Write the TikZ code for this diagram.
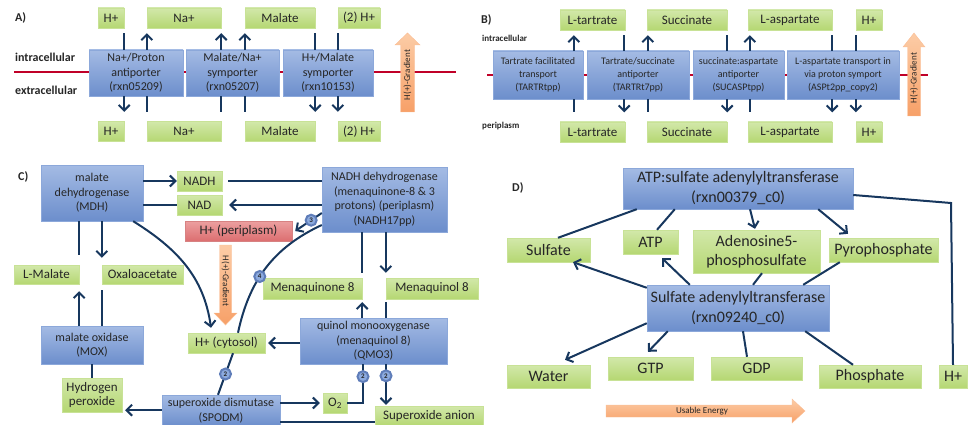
\documentclass[tikz,border=0pt]{standalone}
\usepackage{fontspec}
\setmainfont{Carlito}
\usetikzlibrary{arrows.meta}
\definecolor{enztop}{RGB}{164,187,228}
\definecolor{enzbot}{RGB}{108,142,204}
\definecolor{enzline}{RGB}{140,168,218}
\definecolor{mettop}{RGB}{210,232,170}
\definecolor{metbot}{RGB}{181,215,114}
\definecolor{metline}{RGB}{200,226,150}
\definecolor{redtop}{RGB}{236,160,160}
\definecolor{redbot}{RGB}{220,110,112}
\definecolor{redline}{RGB}{215,130,130}
\definecolor{flowc}{RGB}{23,55,94}
\definecolor{memb}{RGB}{192,0,40}
\definecolor{gradtop}{RGB}{252,204,166}
\definecolor{gradbot}{RGB}{247,160,104}
\definecolor{gradline}{RGB}{250,190,150}
\definecolor{numfill}{RGB}{140,170,222}
\definecolor{numline}{RGB}{95,125,185}
\definecolor{txt}{RGB}{38,38,38}
\tikzset{
  enz/.style={draw=enzline,top color=enztop,bottom color=enzbot,inner sep=0pt,align=center,text=txt,font=\fontsize{12}{14.5}\selectfont},
  enzs/.style={enz,font=\fontsize{10}{13}\selectfont},
  enzl/.style={enz,font=\fontsize{16}{20}\selectfont},
  met/.style={draw=metline,top color=mettop,bottom color=metbot,inner sep=0pt,align=center,text=txt,font=\fontsize{13}{14.5}\selectfont},
  metl/.style={met,font=\fontsize{16}{18.5}\selectfont},
  hp/.style={met,draw=redline,top color=redtop,bottom color=redbot},
  link/.style={draw=flowc,line width=2pt},
  flow/.style={link,-{Straight Barb[length=5.5pt,width=11pt]}},
  num/.style={circle,draw=numline,fill=numfill,inner sep=0pt,minimum size=11pt,text=txt,font=\fontsize{7}{7}\selectfont\bfseries},
  membrane/.style={draw=memb,line width=2.6pt},
  grad/.style={draw=gradline,line width=0.4pt,top color=gradtop,bottom color=gradbot},
  gtext/.style={text=txt,inner sep=0pt,font=\fontsize{9}{9}\selectfont},
  lbl/.style={text=txt,inner sep=0pt,font=\fontsize{12}{14}\selectfont\bfseries},
  lbls/.style={lbl,font=\fontsize{9}{11}\selectfont\bfseries}
}
\begin{document}
\begin{tikzpicture}[x=1pt,y=-1pt]
\useasboundingbox (0,0) rectangle (969,425);
% A) and B): membrane transport
\draw[membrane] (14,72) -- (456,72);
\draw[membrane] (487,75) -- (928,75);
\node[lbl,anchor=west] (labA) at (15,18) {A)};
\node[lbl,anchor=west] (inA) at (15,57) {intracellular};
\node[lbl,anchor=west] (exA) at (15,90) {extracellular};
\node[lbl,anchor=west] (labB) at (481,20) {B)};
\node[lbls,anchor=west] (inB) at (482,38) {intracellular};
\node[lbls,anchor=west] (exB) at (482,126) {periplasm};
\foreach \nm/\x/\w/\txt in {Ha/111/26/H+, Na/184/74/Na+, Mal/280/70/Malate, Hb/359/42/(2) H+}{
  \node[met,minimum width=\w pt,minimum height=20pt] (t\nm) at (\x,18) {\txt};
  \node[met,minimum width=\w pt,minimum height=20pt] (b\nm) at (\x,131.5) {\txt};
}
\foreach \nm/\x/\w/\txt in {Lt/592.5/65/L-tartrate, Su/687/80/Succinate, La/790/84/L-aspartate, Hc/869/26/H+}{
  \node[met,minimum width=\w pt,minimum height=20pt] (t\nm) at (\x,20) {\txt};
  \node[met,minimum width=\w pt,minimum height=20pt] (b\nm) at (\x,132) {\txt};
}
\node[enz,minimum width=94pt,minimum height=46pt] (ea1) at (136,73) {Na+/Proton\\antiporter\\(rxn05209)};
\node[enz,minimum width=93pt,minimum height=46pt] (ea2) at (232.5,73) {Malate/Na+\\symporter\\(rxn05207)};
\node[enz,minimum width=90pt,minimum height=46pt] (ea3) at (328,73) {H+/Malate\\symporter\\(rxn10153)};
\node[enzs,minimum width=90pt,minimum height=48pt] (eb1) at (538,75) {Tartrate facilitated\\transport\\(TARTRtpp)};
\node[enzs,minimum width=102pt,minimum height=48pt] (eb2) at (638,75) {Tartrate/succinate\\antiporter\\(TARTRt7pp)};
\node[enzs,minimum width=91pt,minimum height=48pt] (eb3) at (738.5,75) {succinate:aspartate\\antiporter\\(SUCASPtpp)};
\node[enzs,minimum width=112pt,minimum height=48pt] (eb4) at (843,75) {L-aspartate transport in\\via proton symport\\(ASPt2pp\_copy2)};
\foreach \mt/\en/\mb/\anc/\dx/\stU/\stD in {tHa/ea1/bHa/south east/0/link/flow, tNa/ea1/bNa/south west/0/flow/link,
    tNa/ea2/bNa/south east/0/flow/link, tMal/ea2/bMal/south west/0/flow/link, tMal/ea3/bMal/south east/0/link/flow,
    tHb/ea3/bHb/south west/0/link/flow, tLt/eb1/bLt/south west/14/flow/link, tLt/eb2/bLt/south east/-1/link/flow,
    tSu/eb2/bSu/south west/1/flow/link, tSu/eb3/bSu/south east/0/link/flow, tLa/eb3/bLa/south west/2/flow/link,
    tLa/eb4/bLa/south east/0/link/flow, tHc/eb4/bHc/south west/0/link/flow}{
  \coordinate (p) at ([xshift=\dx pt]\mt.\anc);
  \draw[\stU,shorten >=5pt] (p |- \en.north) -- (p);
  \draw[\stD,shorten >=9.5pt] (p |- \en.south) -- (p |- \mb.north);
}
\shade[grad] (400.5,112) -- (400.5,45) -- (395,45) -- (407.5,33) -- (420,45) -- (414.5,45) -- (414.5,112) -- cycle;
\node[gtext,rotate=90] (gradA) at (407.5,75) {H(+)-Gradient};
\shade[grad] (907.5,116) -- (907.5,47) -- (903,47) -- (914,33) -- (925,47) -- (920.5,47) -- (920.5,116) -- cycle;
\node[gtext,rotate=90] (gradB) at (914,78) {H(+)-Gradient};
% C) malate and menaquinone
\node[lbl,anchor=west] (labC) at (18,177) {C)};
\node[enz,minimum width=102pt,minimum height=56pt] (mdh) at (92,193) {malate\\dehydrogenase\\(MDH)};
\node[met,minimum width=45pt,minimum height=20pt] (nadh) at (199.5,181) {NADH};
\node[met,minimum width=45pt,minimum height=20pt] (nad) at (199.5,205) {NAD};
\node[enz,minimum width=125pt,minimum height=65pt] (ndh) at (384.5,199.5) {NADH dehydrogenase\\(menaquinone-8 \& 3\\protons) (periplasm)\\(NADH17pp)};
\node[hp,minimum width=107pt,minimum height=20pt] (hper) at (238.5,231) {H+ (periplasm)};
\node[met,minimum width=65pt,minimum height=19pt] (lmal) at (46.5,274.5) {L-Malate};
\node[met,minimum width=81pt,minimum height=19pt] (oxa) at (142.5,274.5) {Oxaloacetate};
\node[met,minimum width=99pt,minimum height=21pt] (mq) at (312.5,288.5) {Menaquinone 8};
\node[met,minimum width=92pt,minimum height=21pt] (mql) at (432,288.5) {Menaquinol 8};
\node[met,minimum width=77pt,minimum height=20pt] (hcyt) at (226.5,343) {H+ (cytosol)};
\node[enz,minimum width=147pt,minimum height=46pt] (qmo) at (373.5,341) {quinol monooxygenase\\(menaquinol 8)\\(QMO3)};
\node[enz,minimum width=102pt,minimum height=38pt] (mox) at (92,345) {malate oxidase\\(MOX)};
\node[met,minimum width=60pt,minimum height=34pt] (hpx) at (92,395) {Hydrogen\\peroxide};
\node[enz,minimum width=118pt,minimum height=31pt] (spodm) at (221,410.5) {superoxide dismutase\\(SPODM)};
\node[met,minimum width=24pt,minimum height=20pt] (o2) at (335,403) {O\textsubscript{2}};
\node[met,minimum width=108pt,minimum height=20pt] (sup) at (429,416) {Superoxide anion};
\shade[grad] (219.5,245) -- (219.5,313) -- (214,313) -- (225.5,325) -- (237,313) -- (231.5,313) -- (231.5,245) -- cycle;
\node[gtext,rotate=-90] (gradC) at (225.5,281) {H(+)-Gradient};
\draw[flow] (mdh.east |- nadh) -- (nadh.west);
\draw[link] (nad.west) -- (mdh.east |- nad);
\draw[link,shorten <=6pt] (nadh.east) -- (nadh -| ndh.west);
\draw[flow,shorten >=7pt] (nad -| ndh.west) -- (nad.east);
\draw[flow] ([yshift=-13.5pt]ndh.west) -- node[num,pos=0.4] (n3) {3} ([xshift=3pt]hper.east);
\draw[link] ([xshift=11.5pt]hcyt.north) to[out=78,in=205] node[num,pos=0.42] (n4) {4} ([yshift=-25.5pt]ndh.west);
\draw[flow] ([xshift=-10pt]mdh.south east) to[out=-32,in=98] ([xshift=-15.5pt,yshift=5pt]hcyt.north);
\draw[link,shorten >=10pt] (lmal.north east |- mdh.south) -- (lmal.north east);
\draw[flow,shorten >=7pt] (oxa.north west |- mdh.south) -- (oxa.north west);
\draw[flow,shorten >=7pt] (lmal.south east |- mox.north) -- (lmal.south east);
\draw[link,shorten >=6pt] (oxa.south west |- mox.north) -- (oxa.south west);
\draw[link] (mox) -- (hpx);
\coordinate (hpxin) at ([yshift=2pt]hpx.south east);
\draw[flow,shorten >=3pt] (hpxin -| spodm.west) -- (hpxin);
\draw[link] ([xshift=6.5pt]hcyt.south) -- node[num] (n2a) {2} ([xshift=-3pt]spodm.north);
\draw[flow] (spodm.east |- o2) -- ([xshift=-3pt]o2.west);
\draw[link] ([xshift=-10.5pt]qmo.south) |- node[num,pos=0.16] (n2b) {2} (o2.east);
\coordinate (qs) at ([xshift=12.5pt]qmo.south);
\draw[flow,shorten >=1pt] (qs) -- node[num,pos=0.28] (n2c) {2} (qs |- sup.north);
\coordinate (sin) at ([yshift=-6pt]sup.west);
\draw[link] (sin) -- (sin -| spodm.east);
\draw[flow,shorten >=3pt] (qmo.west |- hcyt) -- (hcyt.east);
\draw[flow,shorten >=3pt] (mq.south east |- qmo.north) -- (mq.south east);
\draw[link,shorten >=3pt] (mql.south west |- qmo.north) -- (mql.south west);
\draw[link,shorten >=5pt] (mq.north east |- ndh.south) -- (mq.north east);
\draw[flow,shorten >=5pt] (mql.north west |- ndh.south) -- (mql.north west);
% D) sulfate activation
\node[lbl,anchor=west] (labD) at (512,188) {D)};
\node[enzl,minimum width=230pt,minimum height=41pt] (atps) at (738,188.5) {ATP:sulfate adenylyltransferase\\(rxn00379\_c0)};
\node[enzl,minimum width=182pt,minimum height=46pt] (sat) at (738,308) {Sulfate adenylyltransferase\\(rxn09240\_c0)};
\foreach \nm/\x/\y/\w/\h/\txt in {sulf/548.5/250/83/24/Sulfate, atp/650.5/242/55/24/ATP, aps/756.5/251.5/127/43/Adenosine5-\\phosphosulfate,
    ppi/883.5/250/109/24/Pyrophosphate, water/548.5/376.5/83/23/Water, gtp/650.5/368.5/85/23/GTP,
    gdp/756.5/368.5/91/23/GDP, pi/870/376.5/102/23/Phosphate, hd/953/376.5/28/23/H+}
  \node[metl,minimum width=\w pt,minimum height=\h pt] (\nm) at (\x,\y) {\txt};
\draw[link] ([xshift=14pt]atps.south west) -- ([xshift=9.5pt]sulf.north);
\draw[link] ([xshift=52pt]atps.south west) -- ([xshift=6.5pt]atp.north);
\draw[flow] ([xshift=12pt]atps.south) -- ([xshift=-1.5pt,yshift=1pt]aps.north);
\draw[flow] ([xshift=-35pt]atps.south east) -- ([xshift=-35.5pt,yshift=4pt]ppi.north);
\coordinate (hbend) at (951,203);
\draw[link] ([yshift=-6.5pt]atps.east) -- (hbend) -- (hd.north);
\draw[flow] ([yshift=-3pt]sat.north west) -- ([xshift=24.5pt]sulf.south);
\draw[flow] ([xshift=43pt]sat.north west) -- ([xshift=11.5pt,yshift=-4pt]atp.south);
\draw[link] ([xshift=5.5pt]aps.south) -- ([xshift=15pt]sat.north);
\draw[link] ([xshift=11pt]ppi.south west) -- ([xshift=-26pt]sat.north east);
\draw[flow] ([yshift=8pt]sat.south west) -- ([xshift=16.5pt,yshift=5pt]water.north);
\draw[flow] ([xshift=21pt]sat.south west) -- ([xshift=-2.5pt,yshift=5pt]gtp.north);
\draw[link] ([xshift=5pt]sat.south) -- ([xshift=-9.5pt]gdp.north);
\draw[link] ([xshift=-24pt]sat.south east) -- ([xshift=-17pt]pi.north);
\shade[grad] (606,405) -- (792,405) -- (792,399) -- (805,411) -- (792,423) -- (792,417) -- (606,417) -- cycle;
\node[gtext] (energy) at (702,411) {Usable Energy};
\end{tikzpicture}
\end{document}
